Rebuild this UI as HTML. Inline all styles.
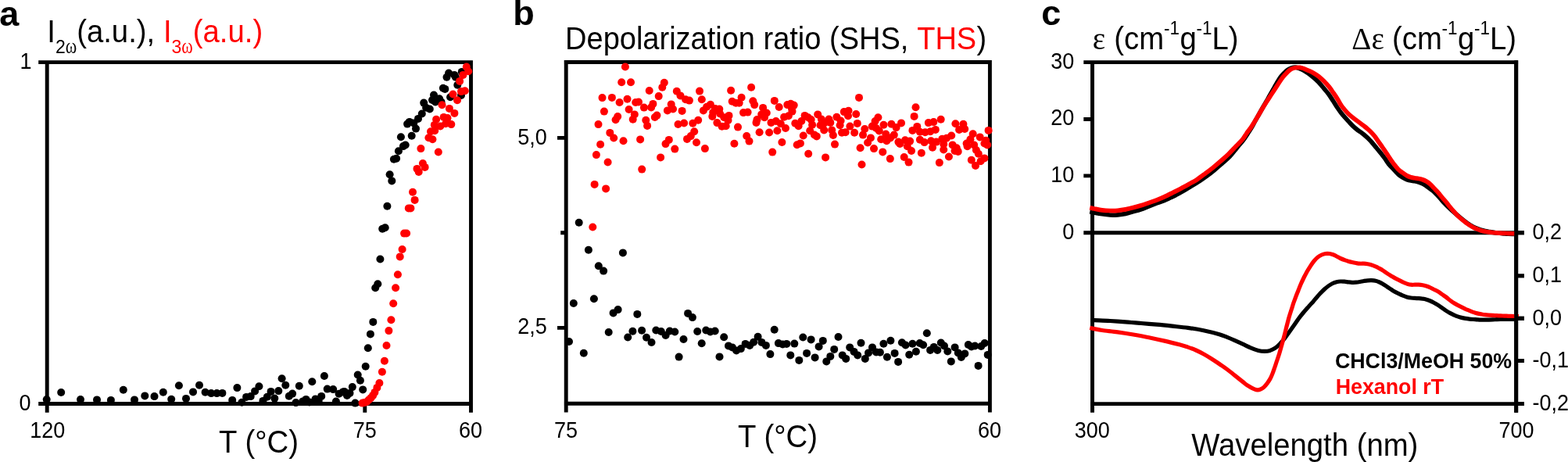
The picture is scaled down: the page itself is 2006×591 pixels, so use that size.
<!DOCTYPE html>
<html><head><meta charset="utf-8"><title>Figure</title>
<style>
html,body{margin:0;padding:0;background:#fff;}
body{width:2006px;height:591px;overflow:hidden;}
svg{display:block;}
text{font-family:"Liberation Sans",sans-serif;fill:#000;}
.b{font-weight:bold;}
.sym{font-family:"Liberation Serif",serif;}
.r{fill:#ff0000;}
.ax{stroke:#000;stroke-width:4.9;fill:none;stroke-linecap:butt;}
.cv{fill:none;stroke-width:5.2;stroke-linejoin:round;stroke-linecap:butt;}
</style></head><body>
<svg width="2006" height="591" viewBox="0 0 2006 591">
<rect width="2006" height="591" fill="#fff"/>

<g id="panel-a">
<path class="ax" d="M49.2 79.6H604.9 M49.2 516.5H604.9 M60.2 77.2V527.8 M602.5 77.2V527.8 M466.8 516.5V527.8"/>
<g fill="#000"><circle cx="59.7" cy="511.1" r="5.0"/><circle cx="78.2" cy="502.0" r="5.0"/><circle cx="103.0" cy="511.1" r="5.0"/><circle cx="124.0" cy="511.4" r="5.0"/><circle cx="141.9" cy="511.9" r="5.0"/><circle cx="157.8" cy="498.8" r="5.0"/><circle cx="172.0" cy="511.4" r="5.0"/><circle cx="185.3" cy="506.4" r="5.0"/><circle cx="197.5" cy="507.1" r="5.0"/><circle cx="208.8" cy="501.7" r="5.0"/><circle cx="219.2" cy="510.7" r="5.0"/><circle cx="228.9" cy="493.2" r="5.0"/><circle cx="238.0" cy="509.9" r="5.0"/><circle cx="247.0" cy="501.4" r="5.0"/><circle cx="255.0" cy="492.8" r="5.0"/><circle cx="262.6" cy="501.7" r="5.0"/><circle cx="270.2" cy="503.1" r="5.0"/><circle cx="277.4" cy="503.1" r="5.0"/><circle cx="284.4" cy="502.9" r="5.0"/><circle cx="297.2" cy="511.9" r="5.0"/><circle cx="303.4" cy="496.1" r="5.0"/><circle cx="309.4" cy="514.7" r="5.0"/><circle cx="315.1" cy="507.9" r="5.0"/><circle cx="320.7" cy="507.1" r="5.0"/><circle cx="326.1" cy="500.4" r="5.0"/><circle cx="331.4" cy="494.2" r="5.0"/><circle cx="336.4" cy="512.9" r="5.0"/><circle cx="341.8" cy="507.7" r="5.0"/><circle cx="346.6" cy="500.9" r="5.0"/><circle cx="351.3" cy="509.6" r="5.0"/><circle cx="356.3" cy="500.1" r="5.0"/><circle cx="360.6" cy="484.3" r="5.0"/><circle cx="365.3" cy="492.8" r="5.0"/><circle cx="369.8" cy="506.7" r="5.0"/><circle cx="374.1" cy="503.6" r="5.0"/><circle cx="378.5" cy="515.1" r="5.0"/><circle cx="382.8" cy="493.7" r="5.0"/><circle cx="387.3" cy="513.4" r="5.0"/><circle cx="391.5" cy="510.9" r="5.0"/><circle cx="395.8" cy="514.4" r="5.0"/><circle cx="399.3" cy="488.3" r="5.0"/><circle cx="403.5" cy="510.4" r="5.0"/><circle cx="407.7" cy="512.9" r="5.0"/><circle cx="411.2" cy="506.9" r="5.0"/><circle cx="414.9" cy="481.0" r="5.0"/><circle cx="418.7" cy="497.6" r="5.0"/><circle cx="426.2" cy="498.1" r="5.0"/><circle cx="429.9" cy="513.6" r="5.0"/><circle cx="433.6" cy="503.8" r="5.0"/><circle cx="438.7" cy="501.4" r="5.0"/><circle cx="440.5" cy="500.9" r="5.0"/><circle cx="444.0" cy="505.9" r="5.0"/><circle cx="447.5" cy="502.9" r="5.0"/><circle cx="450.8" cy="495.1" r="5.0"/><circle cx="454.4" cy="515.6" r="5.0"/><circle cx="457.7" cy="479.5" r="5.0"/><circle cx="460.9" cy="486.7" r="5.0"/><circle cx="464.2" cy="498.4" r="5.0"/><circle cx="467.7" cy="468.8" r="5.0"/><circle cx="477.3" cy="411.9" r="5.0"/><circle cx="473.9" cy="427.4" r="5.0"/><circle cx="470.8" cy="445.3" r="5.0"/><circle cx="489.2" cy="292.7" r="5.0"/><circle cx="492.7" cy="291.2" r="5.0"/><circle cx="486.4" cy="331.5" r="5.0"/><circle cx="483.3" cy="363.3" r="5.0"/><circle cx="480.2" cy="368.2" r="5.0"/><circle cx="498.6" cy="223.2" r="5.0"/><circle cx="501.3" cy="231.4" r="5.0"/><circle cx="495.4" cy="263.7" r="5.0"/><circle cx="503.9" cy="203.7" r="5.0"/><circle cx="507.1" cy="202.7" r="5.0"/><circle cx="509.9" cy="193.3" r="5.0"/><circle cx="515.9" cy="187.1" r="5.0"/><circle cx="518.7" cy="185.5" r="5.0"/><circle cx="512.9" cy="175.3" r="5.0"/><circle cx="526.7" cy="173.7" r="5.0"/><circle cx="532.0" cy="164.6" r="5.0"/><circle cx="521.1" cy="158.6" r="5.0"/><circle cx="523.9" cy="155.9" r="5.0"/><circle cx="529.3" cy="157.5" r="5.0"/><circle cx="535.0" cy="151.9" r="5.0"/><circle cx="539.8" cy="145.5" r="5.0"/><circle cx="542.2" cy="131.6" r="5.0"/><circle cx="549.8" cy="139.5" r="5.0"/><circle cx="545.1" cy="137.8" r="5.0"/><circle cx="553.0" cy="128.0" r="5.0"/><circle cx="557.0" cy="130.4" r="5.0"/><circle cx="562.1" cy="126.2" r="5.0"/><circle cx="555.0" cy="121.5" r="5.0"/><circle cx="564.5" cy="130.4" r="5.0"/><circle cx="576.1" cy="124.3" r="5.0"/><circle cx="590.0" cy="122.0" r="5.0"/><circle cx="574.1" cy="93.5" r="5.0"/><circle cx="571.5" cy="98.7" r="5.0"/><circle cx="581.3" cy="95.9" r="5.0"/><circle cx="582.9" cy="98.7" r="5.0"/><circle cx="590.8" cy="91.9" r="5.0"/><circle cx="585.3" cy="108.7" r="5.0"/><circle cx="566.9" cy="112.7" r="5.0"/><circle cx="569.3" cy="113.9" r="5.0"/></g>
<g fill="#ff0000"><circle cx="463.6" cy="515.6" r="5.0"/><circle cx="466.2" cy="515.1" r="5.0"/><circle cx="469.2" cy="514.0" r="5.0"/><circle cx="471.9" cy="511.4" r="5.0"/><circle cx="474.7" cy="508.9" r="5.0"/><circle cx="477.1" cy="505.9" r="5.0"/><circle cx="479.4" cy="501.9" r="5.0"/><circle cx="482.4" cy="495.9" r="5.0"/><circle cx="485.4" cy="490.0" r="5.0"/><circle cx="488.9" cy="475.8" r="5.0"/><circle cx="491.9" cy="461.7" r="5.0"/><circle cx="503.2" cy="388.3" r="5.0"/><circle cx="500.4" cy="409.3" r="5.0"/><circle cx="497.4" cy="423.1" r="5.0"/><circle cx="494.5" cy="442.0" r="5.0"/><circle cx="517.1" cy="298.6" r="5.0"/><circle cx="520.1" cy="298.5" r="5.0"/><circle cx="514.6" cy="319.0" r="5.0"/><circle cx="511.7" cy="328.4" r="5.0"/><circle cx="508.9" cy="351.2" r="5.0"/><circle cx="506.1" cy="368.3" r="5.0"/><circle cx="540.9" cy="209.0" r="5.0"/><circle cx="543.6" cy="213.9" r="5.0"/><circle cx="533.5" cy="215.9" r="5.0"/><circle cx="535.7" cy="219.9" r="5.0"/><circle cx="528.0" cy="245.7" r="5.0"/><circle cx="530.6" cy="255.9" r="5.0"/><circle cx="522.8" cy="266.4" r="5.0"/><circle cx="525.4" cy="266.4" r="5.0"/><circle cx="538.4" cy="190.1" r="5.0"/><circle cx="560.8" cy="194.5" r="5.0"/><circle cx="548.4" cy="176.3" r="5.0"/><circle cx="553.4" cy="178.2" r="5.0"/><circle cx="551.0" cy="168.2" r="5.0"/><circle cx="556.2" cy="167.3" r="5.0"/><circle cx="565.5" cy="134.2" r="5.0"/><circle cx="574.9" cy="138.9" r="5.0"/><circle cx="581.4" cy="144.9" r="5.0"/><circle cx="585.0" cy="128.2" r="5.0"/><circle cx="579.5" cy="120.5" r="5.0"/><circle cx="558.1" cy="152.7" r="5.0"/><circle cx="567.7" cy="149.9" r="5.0"/><circle cx="572.5" cy="151.1" r="5.0"/><circle cx="570.1" cy="158.3" r="5.0"/><circle cx="577.3" cy="159.1" r="5.0"/><circle cx="555.8" cy="159.9" r="5.0"/><circle cx="563.3" cy="161.5" r="5.0"/><circle cx="596.8" cy="85.6" r="5.0"/><circle cx="599.2" cy="91.2" r="5.0"/><circle cx="592.4" cy="95.9" r="5.0"/><circle cx="588.1" cy="103.9" r="5.0"/><circle cx="590.0" cy="117.1" r="5.0"/><circle cx="594.8" cy="116.3" r="5.0"/></g>
<text transform="translate(-0.70 32.80) scale(1 1.0)" font-size="45" class="b">a</text>
<text transform="translate(60.30 54.30) scale(1 1.05)" font-size="38.3">I</text>
<text transform="translate(70.95 67.60) scale(1 1.06)" font-size="23">2</text>
<text transform="translate(83.75 67.60) scale(1 1.2)" font-size="22" class="sym">ω</text>
<text transform="translate(98.20 54.30) scale(1 1.05)" font-size="38.3">(a.u.), </text>
<text transform="translate(208.90 54.30) scale(1 1.05)" font-size="38.3" class="r">I</text>
<text transform="translate(219.50 67.60) scale(1 1.06)" font-size="23" class="r">3</text>
<text transform="translate(232.30 67.60) scale(1 1.2)" font-size="22" class="sym r">ω</text>
<text transform="translate(246.80 54.30) scale(1 1.05)" font-size="38.3" class="r">(a.u.)</text>
<text transform="translate(40.60 88.00) scale(1 1.06)" font-size="27" text-anchor="end">1</text>
<text transform="translate(39.40 525.00) scale(1 1.06)" font-size="27" text-anchor="end">0</text>
<text transform="translate(60.70 559.70) scale(1 1.06)" font-size="27" text-anchor="middle">120</text>
<text transform="translate(466.80 559.70) scale(1 1.06)" font-size="27" text-anchor="middle">75</text>
<text transform="translate(602.00 559.70) scale(1 1.06)" font-size="27" text-anchor="middle">60</text>
<text transform="translate(331.00 579.00) scale(1 1.05)" font-size="38.3" text-anchor="middle">T (°C)</text>
</g>
<g id="panel-b">
<path class="ax" d="M721.7 79.5H1268.8 M721.7 516.3H1268.8 M724.2 77V527.6 M1266.4 77V527.6 M713 176.4H724 M713 419.4H724 M717.2 297.7H724"/>
<g fill="#000"><circle cx="740.7" cy="284.8" r="5.0"/><circle cx="752.9" cy="319.8" r="5.0"/><circle cx="796.9" cy="323.4" r="5.0"/><circle cx="765.8" cy="340.3" r="5.0"/><circle cx="772.1" cy="346.6" r="5.0"/><circle cx="733.8" cy="388.0" r="5.0"/><circle cx="759.9" cy="382.2" r="5.0"/><circle cx="784.6" cy="400.4" r="5.0"/><circle cx="790.6" cy="396.1" r="5.0"/><circle cx="815.3" cy="401.9" r="5.0"/><circle cx="880.1" cy="400.9" r="5.0"/><circle cx="885.9" cy="406.1" r="5.0"/><circle cx="728.0" cy="437.0" r="5.0"/><circle cx="746.8" cy="451.7" r="5.0"/><circle cx="778.7" cy="425.0" r="5.0"/><circle cx="803.2" cy="431.5" r="5.0"/><circle cx="809.4" cy="423.8" r="5.0"/><circle cx="821.1" cy="422.8" r="5.0"/><circle cx="827.0" cy="431.8" r="5.0"/><circle cx="833.5" cy="438.0" r="5.0"/><circle cx="839.3" cy="422.5" r="5.0"/><circle cx="845.8" cy="424.0" r="5.0"/><circle cx="851.6" cy="429.0" r="5.0"/><circle cx="856.8" cy="423.5" r="5.0"/><circle cx="863.3" cy="424.5" r="5.0"/><circle cx="874.5" cy="434.0" r="5.0"/><circle cx="868.6" cy="456.6" r="5.0"/><circle cx="892.2" cy="424.0" r="5.0"/><circle cx="897.7" cy="439.3" r="5.0"/><circle cx="903.2" cy="422.5" r="5.0"/><circle cx="908.7" cy="424.5" r="5.0"/><circle cx="914.7" cy="423.5" r="5.0"/><circle cx="926.2" cy="431.2" r="5.0"/><circle cx="920.5" cy="456.4" r="5.0"/><circle cx="932.0" cy="442.4" r="5.0"/><circle cx="936.9" cy="444.4" r="5.0"/><circle cx="942.1" cy="448.4" r="5.0"/><circle cx="947.9" cy="446.1" r="5.0"/><circle cx="953.6" cy="439.9" r="5.0"/><circle cx="959.1" cy="441.9" r="5.0"/><circle cx="964.1" cy="437.7" r="5.0"/><circle cx="969.6" cy="430.8" r="5.0"/><circle cx="974.4" cy="437.9" r="5.0"/><circle cx="979.9" cy="441.9" r="5.0"/><circle cx="985.4" cy="453.1" r="5.0"/><circle cx="990.7" cy="421.8" r="5.0"/><circle cx="995.9" cy="439.1" r="5.0"/><circle cx="1001.3" cy="440.4" r="5.0"/><circle cx="1006.3" cy="439.9" r="5.0"/><circle cx="1016.3" cy="439.6" r="5.0"/><circle cx="1011.3" cy="454.4" r="5.0"/><circle cx="1022.3" cy="460.9" r="5.0"/><circle cx="1027.3" cy="431.5" r="5.0"/><circle cx="1032.1" cy="451.9" r="5.0"/><circle cx="1037.6" cy="434.4" r="5.0"/><circle cx="1042.6" cy="457.4" r="5.0"/><circle cx="1047.6" cy="443.4" r="5.0"/><circle cx="1052.8" cy="435.9" r="5.0"/><circle cx="1057.3" cy="462.4" r="5.0"/><circle cx="1062.3" cy="455.9" r="5.0"/><circle cx="1067.2" cy="446.9" r="5.0"/><circle cx="1072.5" cy="431.0" r="5.0"/><circle cx="1077.7" cy="454.4" r="5.0"/><circle cx="1082.2" cy="458.9" r="5.0"/><circle cx="1087.2" cy="444.4" r="5.0"/><circle cx="1092.5" cy="449.9" r="5.0"/><circle cx="1097.2" cy="454.4" r="5.0"/><circle cx="1101.5" cy="438.8" r="5.0"/><circle cx="1106.8" cy="458.9" r="5.0"/><circle cx="1111.0" cy="451.4" r="5.0"/><circle cx="1116.0" cy="444.4" r="5.0"/><circle cx="1120.9" cy="450.4" r="5.0"/><circle cx="1125.9" cy="450.7" r="5.0"/><circle cx="1130.4" cy="439.8" r="5.0"/><circle cx="1134.9" cy="456.7" r="5.0"/><circle cx="1139.4" cy="435.8" r="5.0"/><circle cx="1144.6" cy="451.9" r="5.0"/><circle cx="1149.1" cy="462.9" r="5.0"/><circle cx="1153.9" cy="438.3" r="5.0"/><circle cx="1158.6" cy="441.5" r="5.0"/><circle cx="1163.2" cy="453.7" r="5.0"/><circle cx="1167.4" cy="439.8" r="5.0"/><circle cx="1171.9" cy="449.7" r="5.0"/><circle cx="1176.7" cy="439.0" r="5.0"/><circle cx="1181.1" cy="441.2" r="5.0"/><circle cx="1185.8" cy="426.2" r="5.0"/><circle cx="1190.1" cy="447.9" r="5.0"/><circle cx="1194.8" cy="443.9" r="5.0"/><circle cx="1199.3" cy="447.9" r="5.0"/><circle cx="1203.8" cy="438.5" r="5.0"/><circle cx="1208.0" cy="442.5" r="5.0"/><circle cx="1212.3" cy="449.4" r="5.0"/><circle cx="1216.8" cy="462.4" r="5.0"/><circle cx="1221.6" cy="444.4" r="5.0"/><circle cx="1225.8" cy="451.4" r="5.0"/><circle cx="1229.8" cy="456.9" r="5.0"/><circle cx="1234.3" cy="452.4" r="5.0"/><circle cx="1238.8" cy="441.0" r="5.0"/><circle cx="1242.8" cy="443.4" r="5.0"/><circle cx="1247.3" cy="442.5" r="5.0"/><circle cx="1251.6" cy="467.9" r="5.0"/><circle cx="1255.2" cy="443.0" r="5.0"/><circle cx="1259.7" cy="439.0" r="5.0"/><circle cx="1263.7" cy="453.9" r="5.0"/></g>
<g fill="#ff0000"><circle cx="799.9" cy="85.5" r="5.0"/><circle cx="795.2" cy="105.2" r="5.0"/><circle cx="807.0" cy="105.2" r="5.0"/><circle cx="849.8" cy="105.8" r="5.0"/><circle cx="847.3" cy="111.8" r="5.0"/><circle cx="830.7" cy="116.0" r="5.0"/><circle cx="842.7" cy="123.1" r="5.0"/><circle cx="770.5" cy="125.1" r="5.0"/><circle cx="782.9" cy="124.9" r="5.0"/><circle cx="802.5" cy="126.7" r="5.0"/><circle cx="865.8" cy="116.7" r="5.0"/><circle cx="870.5" cy="122.4" r="5.0"/><circle cx="877.1" cy="127.2" r="5.0"/><circle cx="881.9" cy="128.6" r="5.0"/><circle cx="895.0" cy="116.6" r="5.0"/><circle cx="897.8" cy="127.2" r="5.0"/><circle cx="792.6" cy="131.0" r="5.0"/><circle cx="813.2" cy="131.0" r="5.0"/><circle cx="817.0" cy="130.5" r="5.0"/><circle cx="835.4" cy="132.9" r="5.0"/><circle cx="833.1" cy="137.4" r="5.0"/><circle cx="823.9" cy="137.6" r="5.0"/><circle cx="804.6" cy="140.0" r="5.0"/><circle cx="772.9" cy="142.6" r="5.0"/><circle cx="811.8" cy="146.4" r="5.0"/><circle cx="809.7" cy="152.8" r="5.0"/><circle cx="790.2" cy="149.0" r="5.0"/><circle cx="787.6" cy="153.3" r="5.0"/><circle cx="765.5" cy="159.1" r="5.0"/><circle cx="826.3" cy="153.7" r="5.0"/><circle cx="828.1" cy="160.9" r="5.0"/><circle cx="840.4" cy="147.6" r="5.0"/><circle cx="837.8" cy="150.0" r="5.0"/><circle cx="858.7" cy="133.4" r="5.0"/><circle cx="853.9" cy="141.4" r="5.0"/><circle cx="861.0" cy="139.5" r="5.0"/><circle cx="872.6" cy="141.9" r="5.0"/><circle cx="867.5" cy="159.0" r="5.0"/><circle cx="875.1" cy="157.5" r="5.0"/><circle cx="886.3" cy="157.8" r="5.0"/><circle cx="893.2" cy="153.7" r="5.0"/><circle cx="888.2" cy="168.2" r="5.0"/><circle cx="883.8" cy="174.1" r="5.0"/><circle cx="879.0" cy="177.9" r="5.0"/><circle cx="780.3" cy="169.9" r="5.0"/><circle cx="785.2" cy="176.5" r="5.0"/><circle cx="797.5" cy="180.3" r="5.0"/><circle cx="819.1" cy="178.4" r="5.0"/><circle cx="855.8" cy="178.9" r="5.0"/><circle cx="908.9" cy="133.8" r="5.0"/><circle cx="904.1" cy="136.7" r="5.0"/><circle cx="899.9" cy="141.4" r="5.0"/><circle cx="915.0" cy="139.1" r="5.0"/><circle cx="920.3" cy="139.5" r="5.0"/><circle cx="912.2" cy="143.8" r="5.0"/><circle cx="911.3" cy="149.0" r="5.0"/><circle cx="917.4" cy="157.1" r="5.0"/><circle cx="923.6" cy="161.8" r="5.0"/><circle cx="768.1" cy="184.8" r="5.0"/><circle cx="762.9" cy="198.1" r="5.0"/><circle cx="777.6" cy="207.5" r="5.0"/><circle cx="821.2" cy="216.6" r="5.0"/><circle cx="845.1" cy="201.4" r="5.0"/><circle cx="851.5" cy="184.1" r="5.0"/><circle cx="863.3" cy="190.6" r="5.0"/><circle cx="891.0" cy="182.2" r="5.0"/><circle cx="901.9" cy="190.1" r="5.0"/><circle cx="935.1" cy="115.8" r="5.0"/><circle cx="961.1" cy="111.8" r="5.0"/><circle cx="948.6" cy="124.8" r="5.0"/><circle cx="936.7" cy="129.8" r="5.0"/><circle cx="941.5" cy="131.7" r="5.0"/><circle cx="945.7" cy="131.7" r="5.0"/><circle cx="963.3" cy="129.2" r="5.0"/><circle cx="965.2" cy="134.1" r="5.0"/><circle cx="990.8" cy="128.9" r="5.0"/><circle cx="996.7" cy="137.0" r="5.0"/><circle cx="976.1" cy="137.9" r="5.0"/><circle cx="951.0" cy="144.1" r="5.0"/><circle cx="956.6" cy="143.6" r="5.0"/><circle cx="921.1" cy="145.5" r="5.0"/><circle cx="932.5" cy="147.9" r="5.0"/><circle cx="926.3" cy="150.2" r="5.0"/><circle cx="931.5" cy="154.0" r="5.0"/><circle cx="1007.3" cy="134.1" r="5.0"/><circle cx="1011.6" cy="132.7" r="5.0"/><circle cx="1015.7" cy="134.6" r="5.0"/><circle cx="1013.0" cy="138.9" r="5.0"/><circle cx="1013.5" cy="142.6" r="5.0"/><circle cx="1008.8" cy="148.3" r="5.0"/><circle cx="1003.1" cy="149.7" r="5.0"/><circle cx="980.8" cy="144.5" r="5.0"/><circle cx="974.2" cy="146.4" r="5.0"/><circle cx="978.0" cy="150.2" r="5.0"/><circle cx="968.5" cy="153.1" r="5.0"/><circle cx="992.7" cy="155.0" r="5.0"/><circle cx="986.5" cy="156.9" r="5.0"/><circle cx="1029.6" cy="147.9" r="5.0"/><circle cx="1033.9" cy="150.2" r="5.0"/><circle cx="1037.7" cy="153.1" r="5.0"/><circle cx="1025.3" cy="155.0" r="5.0"/><circle cx="1017.3" cy="157.8" r="5.0"/><circle cx="1046.2" cy="146.4" r="5.0"/><circle cx="1050.9" cy="152.6" r="5.0"/><circle cx="1060.4" cy="152.6" r="5.0"/><circle cx="1070.4" cy="149.7" r="5.0"/><circle cx="1079.8" cy="143.1" r="5.0"/><circle cx="1085.5" cy="141.7" r="5.0"/><circle cx="1085.0" cy="148.3" r="5.0"/><circle cx="928.7" cy="161.2" r="5.0"/><circle cx="944.0" cy="162.6" r="5.0"/><circle cx="955.2" cy="174.0" r="5.0"/><circle cx="958.5" cy="180.6" r="5.0"/><circle cx="939.4" cy="183.7" r="5.0"/><circle cx="967.5" cy="156.9" r="5.0"/><circle cx="971.6" cy="169.2" r="5.0"/><circle cx="984.1" cy="169.5" r="5.0"/><circle cx="994.4" cy="167.3" r="5.0"/><circle cx="998.8" cy="158.3" r="5.0"/><circle cx="1005.0" cy="164.0" r="5.0"/><circle cx="1000.4" cy="182.0" r="5.0"/><circle cx="988.2" cy="194.6" r="5.0"/><circle cx="1021.6" cy="161.2" r="5.0"/><circle cx="1027.7" cy="173.5" r="5.0"/><circle cx="1019.7" cy="185.3" r="5.0"/><circle cx="1023.9" cy="183.4" r="5.0"/><circle cx="1034.2" cy="196.7" r="5.0"/><circle cx="1036.2" cy="167.3" r="5.0"/><circle cx="1039.1" cy="159.7" r="5.0"/><circle cx="1041.9" cy="172.5" r="5.0"/><circle cx="1044.8" cy="174.4" r="5.0"/><circle cx="1049.5" cy="160.2" r="5.0"/><circle cx="1054.2" cy="166.4" r="5.0"/><circle cx="1054.7" cy="157.4" r="5.0"/><circle cx="1062.3" cy="156.9" r="5.0"/><circle cx="1064.2" cy="166.4" r="5.0"/><circle cx="1065.9" cy="173.0" r="5.0"/><circle cx="1068.0" cy="184.6" r="5.0"/><circle cx="1056.1" cy="201.4" r="5.0"/><circle cx="1074.6" cy="160.2" r="5.0"/><circle cx="1075.6" cy="154.5" r="5.0"/><circle cx="1077.0" cy="169.7" r="5.0"/><circle cx="1081.7" cy="169.2" r="5.0"/><circle cx="1087.4" cy="161.6" r="5.0"/><circle cx="1093.1" cy="169.7" r="5.0"/><circle cx="1099.0" cy="124.9" r="5.0"/><circle cx="1095.2" cy="146.0" r="5.0"/><circle cx="1096.8" cy="157.9" r="5.0"/><circle cx="1106.3" cy="165.0" r="5.0"/><circle cx="1123.4" cy="150.3" r="5.0"/><circle cx="1119.6" cy="155.0" r="5.0"/><circle cx="1115.8" cy="161.6" r="5.0"/><circle cx="1121.0" cy="164.0" r="5.0"/><circle cx="1130.5" cy="159.7" r="5.0"/><circle cx="1140.4" cy="158.8" r="5.0"/><circle cx="1146.6" cy="163.1" r="5.0"/><circle cx="1153.0" cy="157.4" r="5.0"/><circle cx="1171.5" cy="137.2" r="5.0"/><circle cx="1169.6" cy="148.9" r="5.0"/><circle cx="1173.3" cy="161.9" r="5.0"/><circle cx="1167.4" cy="166.9" r="5.0"/><circle cx="1187.8" cy="157.1" r="5.0"/><circle cx="1194.4" cy="156.1" r="5.0"/><circle cx="1203.7" cy="152.8" r="5.0"/><circle cx="1196.8" cy="165.9" r="5.0"/><circle cx="1222.4" cy="158.3" r="5.0"/><circle cx="1232.4" cy="158.8" r="5.0"/><circle cx="1234.2" cy="165.0" r="5.0"/><circle cx="1227.1" cy="165.9" r="5.0"/><circle cx="1264.6" cy="166.9" r="5.0"/><circle cx="1104.0" cy="172.6" r="5.0"/><circle cx="1113.9" cy="176.4" r="5.0"/><circle cx="1110.1" cy="182.5" r="5.0"/><circle cx="1100.6" cy="189.2" r="5.0"/><circle cx="1102.5" cy="210.5" r="5.0"/><circle cx="1118.0" cy="190.1" r="5.0"/><circle cx="1124.8" cy="167.4" r="5.0"/><circle cx="1133.3" cy="171.6" r="5.0"/><circle cx="1127.2" cy="178.3" r="5.0"/><circle cx="1134.3" cy="180.2" r="5.0"/><circle cx="1139.0" cy="176.4" r="5.0"/><circle cx="1143.8" cy="172.6" r="5.0"/><circle cx="1129.3" cy="194.4" r="5.0"/><circle cx="1138.8" cy="203.1" r="5.0"/><circle cx="1149.4" cy="181.6" r="5.0"/><circle cx="1151.3" cy="184.0" r="5.0"/><circle cx="1158.0" cy="179.2" r="5.0"/><circle cx="1164.1" cy="180.6" r="5.0"/><circle cx="1160.8" cy="187.3" r="5.0"/><circle cx="1166.0" cy="193.0" r="5.0"/><circle cx="1156.7" cy="201.0" r="5.0"/><circle cx="1162.5" cy="207.6" r="5.0"/><circle cx="1176.9" cy="168.8" r="5.0"/><circle cx="1183.6" cy="169.3" r="5.0"/><circle cx="1190.2" cy="168.3" r="5.0"/><circle cx="1176.9" cy="178.7" r="5.0"/><circle cx="1182.6" cy="182.1" r="5.0"/><circle cx="1191.1" cy="180.2" r="5.0"/><circle cx="1197.8" cy="181.6" r="5.0"/><circle cx="1193.0" cy="188.7" r="5.0"/><circle cx="1178.8" cy="195.8" r="5.0"/><circle cx="1201.8" cy="208.1" r="5.0"/><circle cx="1205.3" cy="177.8" r="5.0"/><circle cx="1211.0" cy="176.8" r="5.0"/><circle cx="1217.2" cy="173.5" r="5.0"/><circle cx="1207.2" cy="184.4" r="5.0"/><circle cx="1218.6" cy="185.4" r="5.0"/><circle cx="1207.2" cy="191.5" r="5.0"/><circle cx="1213.9" cy="200.5" r="5.0"/><circle cx="1223.8" cy="189.2" r="5.0"/><circle cx="1221.5" cy="193.0" r="5.0"/><circle cx="1225.7" cy="193.9" r="5.0"/><circle cx="1244.7" cy="171.2" r="5.0"/><circle cx="1253.7" cy="175.4" r="5.0"/><circle cx="1241.4" cy="178.3" r="5.0"/><circle cx="1236.6" cy="183.5" r="5.0"/><circle cx="1237.6" cy="187.3" r="5.0"/><circle cx="1246.1" cy="185.4" r="5.0"/><circle cx="1248.9" cy="192.0" r="5.0"/><circle cx="1251.8" cy="196.7" r="5.0"/><circle cx="1261.3" cy="179.7" r="5.0"/><circle cx="1259.4" cy="183.5" r="5.0"/><circle cx="1263.1" cy="185.4" r="5.0"/><circle cx="1242.8" cy="204.8" r="5.0"/><circle cx="1259.4" cy="202.4" r="5.0"/><circle cx="1254.6" cy="206.2" r="5.0"/><circle cx="1248.0" cy="211.9" r="5.0"/><circle cx="760.6" cy="235.9" r="5.0"/><circle cx="775.1" cy="241.4" r="5.0"/><circle cx="758.3" cy="290.5" r="5.0"/></g>
<text transform="translate(656.20 32.00) scale(1 1.0)" font-size="45" class="b">b</text>
<text transform="translate(723.10 63.00) scale(1 1.05)" font-size="38.0">Depolarization ratio (SHS,</text>
<text transform="translate(1173.20 63.00) scale(1 1.05)" font-size="38.0" class="r">THS</text>
<text transform="translate(1249.40 63.00) scale(1 1.05)" font-size="38.0">)</text>
<text transform="translate(699.70 184.60) scale(1 1.06)" font-size="27" text-anchor="end">5,0</text>
<text transform="translate(699.70 427.10) scale(1 1.06)" font-size="27" text-anchor="end">2,5</text>
<text transform="translate(724.00 559.70) scale(1 1.06)" font-size="27" text-anchor="middle">75</text>
<text transform="translate(1266.00 559.70) scale(1 1.06)" font-size="27" text-anchor="middle">60</text>
<text transform="translate(995.00 571.60) scale(1 1.05)" font-size="38.3" text-anchor="middle">T (°C)</text>
</g>
<g id="panel-c">
<path class="ax" d="M1386.3 79.6H1942.2 M1386.3 297.8H1949.9 M1395 516.6H1949.9 M1397.5 77.2V527.8 M1939.7 77.2V527.8 M1386.3 152.5H1397 M1386.3 224.9H1397 M1940 352.9H1949.9 M1940 407.3H1949.9 M1940 461.5H1949.9"/>
<path class="cv" d="M1394.3 270.6C1395.2 270.8 1397.4 271.5 1400.0 272.0C1402.6 272.5 1406.7 273.3 1410.0 273.8C1413.3 274.3 1416.7 274.8 1420.0 275.0C1423.3 275.2 1426.6 275.1 1429.9 274.8C1433.2 274.5 1436.6 274.1 1439.9 273.4C1443.2 272.7 1446.6 271.6 1449.9 270.6C1453.2 269.7 1456.6 268.8 1459.9 267.7C1463.2 266.6 1466.6 265.1 1469.9 263.8C1473.2 262.5 1476.6 261.2 1479.9 259.9C1483.2 258.6 1485.9 258.0 1489.9 256.3C1493.9 254.6 1500.1 251.6 1504.2 249.6C1508.2 247.5 1511.1 245.8 1514.3 244.0C1517.5 242.2 1520.2 240.4 1523.3 238.5C1526.5 236.6 1530.0 234.7 1533.3 232.5C1536.6 230.3 1540.1 228.0 1543.4 225.5C1546.8 223.0 1550.1 220.4 1553.4 217.7C1556.7 214.9 1560.1 211.9 1563.4 209.0C1566.7 206.1 1570.2 203.3 1573.4 200.0C1576.6 196.7 1579.6 192.5 1582.4 189.1C1585.2 185.7 1588.1 182.5 1590.4 179.5C1592.7 176.5 1594.4 173.8 1596.2 171.0C1598.0 168.2 1599.8 165.6 1601.4 162.9C1603.0 160.2 1604.2 157.6 1605.7 154.9C1607.2 152.2 1608.9 149.3 1610.5 146.5C1612.1 143.7 1613.7 140.8 1615.3 138.0C1616.9 135.2 1618.4 132.8 1620.0 130.0C1621.6 127.2 1623.4 123.9 1625.1 121.0C1626.8 118.1 1628.4 115.2 1629.9 112.6C1631.4 110.0 1632.5 107.8 1633.9 105.5C1635.3 103.2 1636.7 100.8 1638.2 98.8C1639.7 96.8 1641.4 95.0 1642.9 93.4C1644.5 91.8 1646.0 90.4 1647.5 89.3C1649.0 88.2 1650.6 87.4 1652.2 86.9C1653.8 86.4 1655.5 86.2 1657.0 86.2C1658.5 86.2 1659.4 86.5 1661.0 87.0C1662.6 87.5 1664.7 88.4 1666.8 89.5C1668.9 90.6 1671.2 92.1 1673.5 93.7C1675.8 95.3 1678.0 97.1 1680.3 99.0C1682.6 100.9 1684.8 102.8 1687.1 105.2C1689.3 107.6 1691.7 110.7 1693.8 113.2C1695.9 115.8 1697.8 117.8 1699.8 120.5C1701.8 123.2 1703.9 126.7 1705.8 129.5C1707.6 132.3 1709.1 135.0 1710.8 137.5C1712.5 140.0 1714.1 142.3 1715.8 144.5C1717.5 146.7 1719.1 148.5 1720.8 150.4C1722.5 152.3 1724.2 154.2 1725.8 155.9C1727.4 157.6 1728.8 159.2 1730.5 160.8C1732.2 162.4 1734.1 164.1 1735.8 165.5C1737.5 166.9 1739.1 167.8 1740.8 169.0C1742.5 170.2 1744.1 171.6 1745.8 173.0C1747.5 174.4 1749.1 175.8 1750.8 177.5C1752.5 179.2 1754.1 181.1 1755.8 183.0C1757.5 184.9 1759.0 186.8 1760.8 189.0C1762.6 191.2 1764.7 193.6 1766.6 195.9C1768.4 198.2 1770.2 200.5 1771.9 202.9C1773.6 205.3 1775.1 207.9 1776.9 210.2C1778.7 212.5 1781.0 214.5 1782.9 216.5C1784.7 218.5 1786.8 220.8 1788.0 222.0C1789.2 223.2 1788.8 223.1 1790.0 224.0C1791.2 224.9 1793.3 226.4 1795.0 227.4C1796.7 228.4 1798.3 229.2 1800.0 229.8C1801.7 230.4 1803.2 230.7 1804.9 231.0C1806.6 231.3 1808.2 231.5 1809.9 231.8C1811.6 232.1 1813.2 232.5 1814.9 233.0C1816.6 233.5 1818.2 234.2 1819.9 235.0C1821.6 235.8 1823.0 236.8 1824.9 238.0C1826.8 239.2 1829.2 241.0 1831.0 242.5C1832.9 243.9 1834.4 245.2 1836.1 246.8C1837.8 248.4 1839.4 250.1 1841.1 252.0C1842.8 253.9 1844.1 255.9 1846.1 258.0C1848.1 260.1 1850.1 262.2 1852.9 264.8C1855.6 267.4 1859.3 270.8 1862.5 273.6C1865.7 276.4 1869.0 279.1 1871.9 281.4C1874.8 283.7 1877.7 285.9 1879.9 287.4C1882.1 288.9 1883.2 289.3 1884.9 290.2C1886.6 291.1 1888.2 291.8 1889.9 292.5C1891.6 293.2 1893.2 293.8 1894.9 294.3C1896.6 294.8 1898.2 295.2 1899.9 295.6C1901.6 296.0 1902.3 296.1 1904.8 296.5C1907.3 296.9 1911.5 297.6 1914.8 298.0C1918.1 298.4 1922.3 298.7 1924.8 298.9C1927.3 299.1 1927.3 299.1 1929.8 299.2C1932.3 299.3 1938.3 299.4 1940.0 299.5" stroke="#000" style="stroke-width:5.7"/>
<path class="cv" d="M1394.3 265.6C1395.2 265.8 1397.4 266.5 1400.0 267.0C1402.6 267.5 1406.7 268.4 1410.0 268.8C1413.3 269.2 1416.7 269.4 1420.0 269.5C1423.3 269.6 1426.6 269.6 1429.9 269.3C1433.2 269.0 1436.6 268.5 1439.9 267.9C1443.2 267.3 1446.6 266.5 1449.9 265.6C1453.2 264.7 1456.6 263.7 1459.9 262.7C1463.2 261.7 1466.6 260.5 1469.9 259.4C1473.2 258.2 1476.6 257.1 1479.9 255.8C1483.2 254.5 1486.4 253.2 1489.9 251.6C1493.4 250.0 1497.6 247.8 1501.2 246.0C1504.7 244.3 1507.9 242.8 1511.2 241.0C1514.5 239.2 1517.9 237.4 1521.2 235.5C1524.5 233.6 1527.9 232.0 1531.2 229.8C1534.5 227.6 1538.0 224.9 1541.3 222.4C1544.6 219.9 1548.0 217.6 1551.3 214.9C1554.6 212.2 1558.0 209.3 1561.3 206.4C1564.6 203.5 1568.0 200.7 1571.3 197.5C1574.6 194.3 1578.2 190.2 1581.3 187.0C1584.4 183.8 1587.6 180.8 1589.9 178.0C1592.2 175.2 1593.2 173.0 1594.9 170.5C1596.7 168.0 1598.7 165.5 1600.5 162.9C1602.3 160.3 1603.8 157.6 1605.5 154.9C1607.2 152.2 1608.8 149.3 1610.5 146.5C1612.2 143.7 1613.8 140.8 1615.5 138.0C1617.2 135.2 1618.7 132.8 1620.5 130.0C1622.3 127.2 1624.5 123.9 1626.4 121.0C1628.3 118.1 1630.2 115.2 1631.9 112.6C1633.6 110.0 1635.0 107.8 1636.5 105.5C1638.0 103.2 1639.6 100.8 1641.2 98.8C1642.8 96.8 1644.4 94.9 1645.9 93.4C1647.4 91.9 1648.6 90.6 1650.0 89.6C1651.4 88.6 1652.8 87.9 1654.3 87.4C1655.8 86.9 1657.4 86.7 1658.8 86.5C1660.2 86.3 1661.4 86.2 1662.8 86.4C1664.2 86.6 1665.2 86.8 1667.0 87.4C1668.8 88.0 1671.2 89.1 1673.5 90.1C1675.8 91.1 1678.2 92.1 1680.5 93.4C1682.8 94.7 1684.8 95.9 1687.0 97.7C1689.2 99.5 1691.7 101.7 1694.0 104.0C1696.3 106.3 1698.6 108.9 1700.6 111.4C1702.6 113.9 1704.1 116.3 1706.0 119.0C1707.9 121.7 1710.2 125.2 1711.8 127.8C1713.4 130.4 1714.2 132.4 1715.7 134.5C1717.1 136.6 1718.9 138.6 1720.4 140.5C1722.0 142.4 1723.6 144.2 1725.2 145.8C1726.8 147.4 1728.5 148.7 1730.2 150.0C1731.9 151.3 1733.5 152.6 1735.2 153.8C1736.9 155.1 1738.7 156.3 1740.2 157.5C1741.8 158.7 1743.1 159.7 1744.5 160.8C1745.9 161.9 1747.0 162.7 1748.5 164.0C1750.0 165.3 1751.8 166.8 1753.5 168.5C1755.2 170.2 1756.8 171.9 1758.5 174.0C1760.2 176.1 1761.7 178.6 1763.4 181.0C1765.1 183.4 1767.0 186.0 1768.7 188.5C1770.4 191.0 1772.0 193.4 1773.7 195.9C1775.4 198.4 1777.0 201.0 1778.7 203.4C1780.4 205.8 1782.0 208.2 1783.7 210.4C1785.4 212.6 1787.0 214.7 1788.7 216.4C1790.4 218.1 1791.9 219.1 1793.8 220.5C1795.7 221.9 1798.2 223.8 1800.0 224.8C1801.8 225.9 1803.2 226.3 1804.9 226.8C1806.6 227.3 1808.2 227.5 1809.9 227.8C1811.6 228.1 1813.2 228.2 1814.9 228.5C1816.6 228.8 1818.2 229.2 1819.9 229.8C1821.6 230.4 1823.3 231.2 1824.9 232.1C1826.5 233.0 1828.0 234.0 1829.5 235.4C1831.1 236.8 1832.7 238.7 1834.3 240.4C1835.9 242.1 1837.6 243.7 1839.3 245.6C1841.0 247.5 1842.6 249.6 1844.3 251.7C1846.0 253.8 1847.9 255.9 1849.7 258.0C1851.4 260.1 1853.1 262.4 1854.8 264.5C1856.5 266.6 1858.2 268.6 1859.9 270.5C1861.6 272.4 1863.2 274.4 1864.9 276.0C1866.6 277.6 1868.2 279.0 1869.9 280.4C1871.6 281.8 1873.2 283.1 1874.9 284.4C1876.6 285.6 1878.2 286.8 1879.9 287.9C1881.6 289.0 1883.2 290.0 1884.9 290.9C1886.6 291.8 1888.2 292.4 1889.9 293.1C1891.6 293.8 1893.2 294.4 1894.9 294.9C1896.6 295.4 1898.2 295.8 1899.9 296.1C1901.6 296.4 1903.2 296.7 1904.8 296.9C1906.4 297.1 1908.1 297.3 1909.8 297.5C1911.5 297.7 1913.1 297.8 1914.8 297.9C1916.5 298.0 1918.1 298.1 1919.8 298.2C1921.5 298.3 1923.1 298.3 1924.8 298.4C1926.5 298.5 1927.3 298.5 1929.8 298.6C1932.3 298.7 1938.3 298.8 1940.0 298.9" stroke="#ff0000" style="stroke-width:5.7"/>
<path class="cv" d="M1395 409.5C1395.8 409.5 1395.8 409.5 1400.0 409.7C1404.2 409.9 1413.3 410.1 1420.0 410.5C1426.7 410.9 1433.2 411.3 1439.9 411.8C1446.6 412.3 1453.2 412.9 1459.9 413.5C1466.6 414.1 1473.2 414.6 1479.9 415.2C1486.6 415.8 1493.2 416.5 1499.8 417.2C1506.4 417.9 1513.1 418.5 1519.8 419.4C1526.5 420.3 1533.1 421.3 1539.8 422.7C1546.5 424.1 1555.0 426.2 1560.0 427.7C1565.0 429.1 1566.7 430.1 1570.0 431.4C1573.3 432.7 1576.7 434.2 1580.0 435.7C1583.3 437.2 1586.7 438.7 1590.0 440.2C1593.3 441.7 1596.6 443.4 1599.9 444.8C1603.2 446.2 1606.9 447.6 1609.9 448.4C1612.9 449.2 1615.4 449.4 1617.9 449.4C1620.4 449.4 1622.6 449.1 1624.9 448.4C1627.2 447.6 1629.7 446.4 1631.9 444.9C1634.1 443.4 1635.9 441.5 1637.9 439.4C1639.9 437.3 1641.9 435.0 1643.9 432.4C1645.9 429.8 1647.9 426.8 1649.9 424.0C1651.9 421.2 1653.9 418.3 1655.9 415.5C1657.9 412.7 1659.8 409.7 1661.8 407.0C1663.8 404.3 1665.6 402.1 1667.8 399.5C1670.0 396.9 1672.9 393.7 1674.9 391.4C1676.9 389.1 1678.2 387.8 1679.9 385.9C1681.6 384.0 1683.2 381.8 1684.9 379.9C1686.6 378.0 1688.2 376.1 1689.9 374.4C1691.6 372.7 1693.2 371.0 1694.9 369.5C1696.6 368.0 1698.2 366.7 1699.9 365.5C1701.6 364.3 1703.2 363.3 1704.9 362.5C1706.6 361.7 1708.2 361.1 1709.9 360.7C1711.6 360.3 1713.2 360.1 1714.9 360.0C1716.6 359.9 1718.2 360.1 1719.9 360.2C1721.6 360.3 1723.2 360.6 1724.9 360.8C1726.6 361.0 1728.2 361.2 1729.9 361.3C1731.6 361.4 1733.2 361.3 1734.8 361.2C1736.4 361.1 1738.1 360.8 1739.8 360.5C1741.5 360.2 1743.1 359.8 1744.8 359.5C1746.5 359.2 1748.1 358.9 1749.8 358.8C1751.5 358.7 1753.1 358.6 1754.8 358.7C1756.5 358.8 1758.1 358.9 1759.8 359.3C1761.5 359.7 1763.1 360.3 1764.8 361.0C1766.5 361.7 1768.1 362.7 1769.8 363.7C1771.5 364.7 1773.1 365.9 1774.8 367.0C1776.5 368.1 1778.1 369.2 1779.8 370.3C1781.5 371.4 1783.1 372.5 1784.8 373.4C1786.5 374.3 1788.1 375.1 1789.8 375.9C1791.5 376.7 1793.1 377.4 1794.8 378.1C1796.5 378.8 1798.0 379.4 1799.7 379.9C1801.4 380.4 1803.3 380.8 1805.0 381.0C1806.7 381.2 1808.3 381.3 1810.0 381.4C1811.7 381.5 1813.3 381.6 1815.0 381.7C1816.7 381.8 1818.3 381.9 1820.0 382.2C1821.7 382.4 1823.3 382.7 1825.0 383.2C1826.7 383.7 1828.3 384.3 1830.0 385.0C1831.7 385.7 1833.2 386.6 1834.9 387.5C1836.6 388.4 1838.2 389.3 1839.9 390.4C1841.6 391.5 1843.2 392.7 1844.9 393.9C1846.6 395.1 1848.2 396.3 1849.9 397.4C1851.6 398.5 1853.2 399.5 1854.9 400.4C1856.6 401.3 1858.2 402.1 1859.9 402.9C1861.6 403.6 1863.2 404.3 1864.9 404.9C1866.6 405.5 1868.2 406.0 1869.9 406.4C1871.6 406.8 1873.2 407.1 1874.9 407.4C1876.6 407.7 1878.2 407.9 1879.9 408.1C1881.6 408.3 1883.2 408.4 1884.9 408.5C1886.6 408.6 1888.2 408.8 1889.9 408.9C1891.6 409.0 1893.2 409.1 1894.9 409.1C1896.6 409.2 1898.2 409.2 1899.9 409.2C1901.6 409.2 1903.2 409.2 1904.8 409.2C1906.4 409.1 1908.1 409.0 1909.8 408.9C1911.5 408.8 1913.1 408.7 1914.8 408.6C1916.5 408.5 1918.1 408.4 1919.8 408.4C1921.5 408.3 1923.1 408.3 1924.8 408.3C1926.5 408.3 1927.3 408.3 1929.8 408.3C1932.3 408.3 1938.3 408.3 1940.0 408.3" stroke="#000"/>
<path class="cv" d="M1394.3 419.4C1395.2 419.6 1397.4 420.1 1400.0 420.6C1402.6 421.1 1405.0 421.8 1410.0 422.5C1415.0 423.2 1423.2 423.9 1429.9 424.8C1436.6 425.7 1443.2 426.8 1449.9 428.0C1456.6 429.2 1463.2 430.4 1469.9 431.8C1476.6 433.2 1483.2 434.6 1489.9 436.1C1496.6 437.7 1504.8 439.8 1509.8 441.1C1514.8 442.4 1516.4 443.0 1519.8 444.1C1523.2 445.2 1526.6 446.5 1530.0 448.0C1533.4 449.5 1536.7 451.2 1540.0 453.0C1543.3 454.8 1546.7 456.9 1550.0 459.0C1553.3 461.1 1556.6 463.2 1559.9 465.5C1563.2 467.8 1566.6 470.0 1569.9 472.5C1573.2 475.0 1576.6 477.8 1579.9 480.4C1583.2 483.0 1587.4 486.4 1589.9 488.4C1592.4 490.4 1593.2 491.2 1594.9 492.4C1596.6 493.6 1598.2 494.5 1599.9 495.4C1601.6 496.3 1603.4 497.3 1604.9 497.9C1606.4 498.5 1607.6 498.9 1608.9 498.9C1610.2 498.9 1611.6 498.5 1612.9 497.9C1614.2 497.3 1615.6 496.6 1616.9 495.4C1618.2 494.2 1619.5 492.6 1620.8 490.9C1622.1 489.1 1623.6 487.0 1624.8 484.9C1626.0 482.8 1626.8 480.9 1627.8 478.4C1628.8 475.9 1629.8 472.9 1630.8 470.0C1631.8 467.1 1632.8 463.9 1633.8 461.0C1634.8 458.1 1635.6 455.7 1636.6 452.5C1637.6 449.3 1638.5 445.8 1639.6 442.0C1640.6 438.2 1641.9 433.9 1642.9 429.9C1644.0 425.9 1644.9 421.9 1645.9 418.0C1646.9 414.1 1647.9 410.2 1648.9 406.5C1650.0 402.8 1651.2 399.1 1652.2 396.0C1653.2 392.9 1653.8 390.7 1654.7 388.0C1655.6 385.3 1656.7 382.6 1657.7 379.9C1658.7 377.1 1659.9 374.3 1661.0 371.5C1662.1 368.7 1663.2 365.8 1664.4 363.0C1665.6 360.2 1667.1 357.2 1668.4 354.5C1669.7 351.8 1671.1 349.4 1672.4 347.0C1673.8 344.6 1675.1 342.6 1676.5 340.4C1677.9 338.2 1679.4 335.9 1681.0 334.0C1682.6 332.1 1684.2 330.3 1685.9 329.0C1687.6 327.7 1689.2 326.8 1690.9 326.0C1692.6 325.2 1694.2 324.8 1695.9 324.5C1697.6 324.2 1699.3 324.3 1700.9 324.5C1702.5 324.7 1704.0 325.2 1705.6 325.8C1707.1 326.4 1708.7 327.2 1710.2 328.0C1711.8 328.8 1713.3 329.8 1714.9 330.5C1716.5 331.2 1718.2 331.9 1719.9 332.5C1721.6 333.1 1723.2 333.7 1724.9 334.2C1726.6 334.7 1728.2 335.1 1729.9 335.5C1731.6 335.9 1733.2 336.2 1734.9 336.5C1736.6 336.8 1738.2 337.1 1739.9 337.2C1741.6 337.3 1743.2 337.1 1744.9 337.2C1746.6 337.3 1748.2 337.5 1749.8 337.8C1751.4 338.1 1753.1 338.5 1754.8 339.0C1756.5 339.5 1758.1 340.2 1759.8 340.9C1761.5 341.6 1763.1 342.5 1764.8 343.4C1766.5 344.3 1768.1 345.3 1769.8 346.4C1771.5 347.5 1773.1 348.8 1774.8 349.9C1776.5 351.0 1778.1 351.9 1779.8 352.9C1781.5 353.9 1783.1 355.0 1784.8 355.9C1786.5 356.8 1788.1 357.6 1789.8 358.4C1791.5 359.2 1793.1 360.1 1794.8 360.9C1796.5 361.6 1798.1 362.3 1799.8 362.9C1801.5 363.4 1803.3 364.0 1805.0 364.2C1806.7 364.4 1808.3 364.2 1810.0 364.2C1811.7 364.2 1813.3 364.1 1815.0 364.2C1816.7 364.3 1818.3 364.5 1820.0 364.8C1821.7 365.1 1823.3 365.5 1825.0 366.0C1826.7 366.5 1828.3 367.2 1830.0 368.0C1831.7 368.8 1833.2 369.7 1834.9 370.5C1836.6 371.3 1838.2 372.0 1839.9 373.0C1841.6 374.0 1843.2 375.3 1844.9 376.5C1846.6 377.7 1848.2 378.8 1849.9 380.0C1851.6 381.2 1853.2 382.8 1854.9 384.0C1856.6 385.2 1858.2 386.4 1859.9 387.5C1861.6 388.6 1863.2 389.5 1864.9 390.4C1866.6 391.3 1868.2 392.1 1869.9 392.9C1871.6 393.7 1873.2 394.6 1874.9 395.4C1876.6 396.1 1878.2 396.7 1879.9 397.4C1881.6 398.1 1883.2 398.8 1884.9 399.4C1886.6 400.0 1888.2 400.5 1889.9 400.9C1891.6 401.3 1893.2 401.6 1894.9 401.9C1896.6 402.2 1898.2 402.5 1899.9 402.7C1901.6 402.9 1903.2 403.0 1904.8 403.1C1906.4 403.2 1908.1 403.3 1909.8 403.4C1911.5 403.5 1913.1 403.6 1914.8 403.7C1916.5 403.8 1918.1 403.8 1919.8 403.9C1921.5 404.0 1923.1 404.0 1924.8 404.1C1926.5 404.2 1927.7 404.2 1929.8 404.3C1931.9 404.4 1935.1 404.4 1937.3 404.5C1939.5 404.6 1942.0 404.6 1943.0 404.6" stroke="#ff0000"/>
<path class="ax" d="M1939.7 77.2V527.8 M1940 297.8H1949.9 M1940 352.9H1949.9 M1940 407.3H1949.9 M1940 461.5H1949.9 M1940 516.6H1949.9"/>
<text transform="translate(1332.20 32.30) scale(1 1.0)" font-size="45" class="b">c</text>
<text transform="translate(1397.80 63.00) scale(1 1.0)" font-size="39" class="sym">ε</text>
<text transform="translate(1425.30 63.00) scale(1 1.05)" font-size="38.3">(cm</text>
<text transform="translate(1488.90 43.60) scale(1 1.06)" font-size="22.5">-1</text>
<text transform="translate(1509.60 63.00) scale(1 1.05)" font-size="38.3">g</text>
<text transform="translate(1530.60 43.60) scale(1 1.06)" font-size="22.5">-1</text>
<text transform="translate(1550.50 63.00) scale(1 1.05)" font-size="38.3">L)</text>
<text transform="translate(1729.30 63.00) scale(1 1.0)" font-size="39" class="sym">Δε</text>
<text transform="translate(1781.00 63.00) scale(1 1.05)" font-size="38.3">(cm</text>
<text transform="translate(1844.60 43.60) scale(1 1.06)" font-size="22.5">-1</text>
<text transform="translate(1864.90 63.00) scale(1 1.05)" font-size="38.3">g</text>
<text transform="translate(1886.10 43.60) scale(1 1.06)" font-size="22.5">-1</text>
<text transform="translate(1906.00 63.00) scale(1 1.05)" font-size="38.3">L)</text>
<text transform="translate(1669.30 582.80) scale(1 1.05)" font-size="38.3" text-anchor="middle">Wavelength (nm)</text>
<text transform="translate(1397.30 559.70) scale(1 1.06)" font-size="27" text-anchor="middle">300</text>
<text transform="translate(1940.00 559.70) scale(1 1.06)" font-size="27" text-anchor="middle">700</text>
<text transform="translate(1934.20 471.00) scale(1 1.04)" font-size="26.8" class="b" text-anchor="end">CHCl3/MeOH 50%</text>
<text transform="translate(1708.70 504.30) scale(1 1.04)" font-size="26.8" class="b r">Hexanol rT</text>
<text transform="translate(1374.30 87.50) scale(1 1.06)" font-size="27" text-anchor="end">30</text>
<text transform="translate(1374.30 160.40) scale(1 1.06)" font-size="27" text-anchor="end">20</text>
<text transform="translate(1374.30 232.80) scale(1 1.06)" font-size="27" text-anchor="end">10</text>
<text transform="translate(1374.30 305.70) scale(1 1.06)" font-size="27" text-anchor="end">0</text>
<text transform="translate(1960.40 305.90) scale(1 1.06)" font-size="27">0,2</text>
<text transform="translate(1960.40 361.00) scale(1 1.06)" font-size="27">0,1</text>
<text transform="translate(1960.40 415.50) scale(1 1.06)" font-size="27">0,0</text>
<text transform="translate(1960.40 469.60) scale(1 1.06)" font-size="27">-0,1</text>
<text transform="translate(1960.40 524.70) scale(1 1.06)" font-size="27">-0,2</text>
</g>
</svg></body></html>
